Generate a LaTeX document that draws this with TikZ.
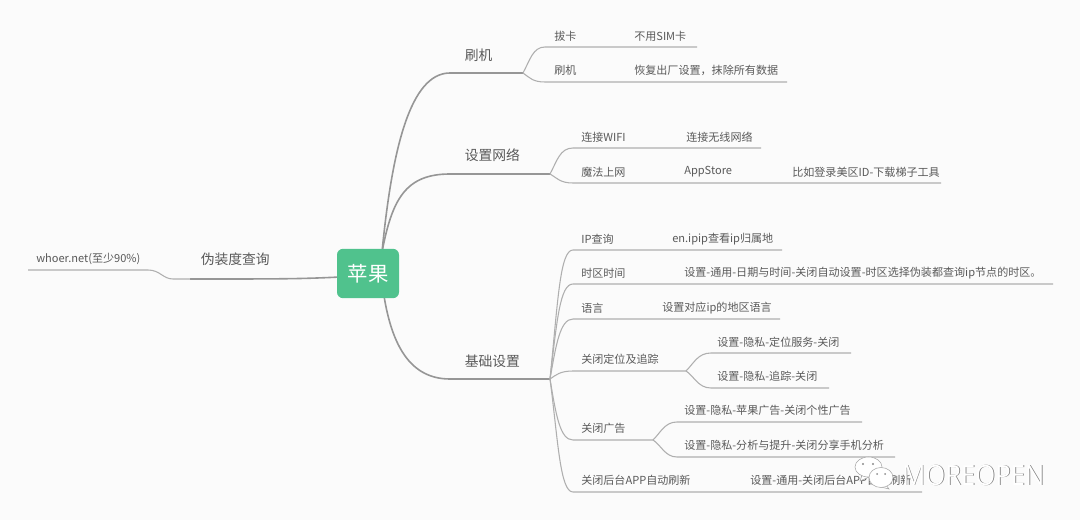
\documentclass[tikz,border=0pt]{standalone}
\usepackage{fontspec}
\setmainfont{Noto Sans CJK SC}
\newfontfamily\markfont{Open Sans}
\definecolor{paper}{HTML}{FBFBFB}
\definecolor{inkgray}{HTML}{5A5A5A}
\definecolor{rootgreen}{HTML}{50C28D}
\tikzset{
  rootbox/.style={fill=rootgreen,rounded corners=4.5pt,minimum width=46.5pt,minimum height=37pt,inner sep=0pt,text=white,font=\fontsize{15.3}{15.3}\selectfont},
  mainlabel/.style={anchor=west,inner sep=0pt,text=inkgray,font=\fontsize{10.35}{10.35}\selectfont},
  sublabel/.style={anchor=west,inner sep=0pt,text=inkgray,font=\fontsize{8.3}{8.3}\selectfont},
  mainline/.style={draw={rgb, 255:red, 150; green, 150; blue, 150},line width=1.2pt},
  subline/.style={draw={rgb, 255:red, 175; green, 175; blue, 175},line width=0.8pt},
}
\begin{document}
\begin{tikzpicture}[x=0.75pt,y=0.75pt,yscale=-1]
\useasboundingbox (0,0) rectangle (1080,520);
\fill [paper] (0,0) rectangle (1080,520);

% Junctions
\coordinate (hubup) at (382,252);
\coordinate (hubdown) at (384,296);
\coordinate (hubleft) at (340,277);
\coordinate (flashjoin) at (523,73);
\coordinate (netjoin) at (550,174);
\coordinate (basejoin) at (550,379);
\coordinate (locjoin) at (686,371);
\coordinate (adsjoin) at (653,440);
\coordinate (fakejoin) at (190,279);

%Main branches
\draw [mainline] (hubup) .. controls (392,150) and (410,73) .. (450,73) -- (flashjoin);
\draw [mainline] (hubup) .. controls (392,200) and (405,174) .. (450,174) -- (netjoin);
\draw [mainline] (hubdown) .. controls (392,345) and (410,379) .. (450,379) -- (basejoin);
\draw [mainline] (hubleft) .. controls (300,279) and (280,279) .. (fakejoin);

%Left twig
\coordinate (whoerend) at (28,270);
\draw [subline] (fakejoin) -- (173,279) .. controls (163,279) and (160,270) .. (148,270) -- (whoerend);

%Flash twigs
\coordinate (cardend) at (697,47);
\coordinate (resetend) at (787,82);
\draw [subline] (flashjoin) .. controls (530,60) and (533,47) .. (545,47) -- (cardend);
\draw [subline] (flashjoin) .. controls (530,78) and (533,82) .. (545,82) -- (resetend);

%Network twigs
\coordinate (wifiend) at (761,148);
\coordinate (magicend) at (941,183);
\draw [subline] (netjoin) .. controls (557,161) and (560,148) .. (573,148) -- (wifiend);
\draw [subline] (netjoin) .. controls (557,178) and (560,183) .. (573,183) -- (magicend);

%Base twigs
\coordinate (ipend) at (782,250);
\coordinate (zoneend) at (1053,284);
\coordinate (langend) at (780,319);
\coordinate (bgend) at (922,492);
\draw [subline] (basejoin) .. controls (558,300) and (560,250) .. (573,250) -- (ipend);
\draw [subline] (basejoin) .. controls (557,320) and (560,284) .. (573,284) -- (zoneend);
\draw [subline] (basejoin) .. controls (556,345) and (560,319) .. (573,319) -- (langend);
\draw [subline] (basejoin) .. controls (556,375) and (560,371) .. (573,371) -- (locjoin);
\draw [subline] (basejoin) .. controls (556,415) and (560,440) .. (573,440) -- (adsjoin);
\draw [subline] (basejoin) .. controls (558,440) and (560,492) .. (573,492) -- (bgend);

%Location and ads twigs
\coordinate (serviceend) at (851,353);
\coordinate (trackend) at (829,388);
\coordinate (appleadend) at (862,422);
\coordinate (shareend) at (895,457);
\draw [subline] (locjoin) .. controls (694,363) and (698,353) .. (711,353) -- (serviceend);
\draw [subline] (locjoin) .. controls (694,376) and (698,388) .. (711,388) -- (trackend);
\draw [subline] (adsjoin) .. controls (661,432) and (665,422) .. (677,422) -- (appleadend);
\draw [subline] (adsjoin) .. controls (661,445) and (665,457) .. (677,457) -- (shareend);

% Root Node
\node (apple) [rootbox] at (368,273.5) {苹果};

% Main Text Nodes
\node (fake) [mainlabel] at (200.5,259) {伪装度查询};
\node (flash) [mainlabel] at (464.5,55) {刷机};
\node (net) [mainlabel] at (464.5,155) {设置网络};
\node (base) [mainlabel] at (464.5,361) {基础设置};

% Text Nodes
\node (whoer) [sublabel] at (36,259) {whoer.net(至少90\%)};
\node (card) [sublabel] at (554,36) {拔卡};
\node (nosim) [sublabel] at (634,36) {不用SIM卡};
\node (reflash) [sublabel] at (554,70) {刷机};
\node (restore) [sublabel] at (634,70) {恢复出厂设置，抹除所有数据};
\node (wifi) [sublabel] at (581,137) {连接WIFI};
\node (wireless) [sublabel] at (686,137) {连接无线网络};
\node (magic) [sublabel] at (581,172) {魔法上网};
\node (store) [sublabel] at (684,172) {AppStore};
\node (usid) [sublabel] at (792,172) {比如登录美区ID-下载梯子工具};
\node (ip) [sublabel] at (581,239) {IP查询};
\node (ipip) [sublabel] at (672,239) {en.ipip查看ip归属地};
\node (zone) [sublabel] at (581,273) {时区时间};
\node (zoneset) [sublabel] at (684,273) {设置-通用-日期与时间-关闭自动设置-时区选择伪装都查询ip节点的时区。};
\node (lang) [sublabel] at (581,308) {语言};
\node (langset) [sublabel] at (662,308) {设置对应ip的地区语言};
\node (loc) [sublabel] at (581,359) {关闭定位及追踪};
\node (service) [sublabel] at (717,342) {设置-隐私-定位服务-关闭};
\node (track) [sublabel] at (717,376) {设置-隐私-追踪-关闭};
\node (ads) [sublabel] at (581,428) {关闭广告};
\node (applead) [sublabel] at (684,410) {设置-隐私-苹果广告-关闭个性广告};
\node (share) [sublabel] at (684,445) {设置-隐私-分析与提升-关闭分享手机分析};
\node (bg) [sublabel] at (581,480) {关闭后台APP自动刷新};
\node (bgset) [sublabel] at (750,480) {设置-通用-关闭后台APP自动刷新};

%Watermark bubbles
\draw [fill=white,draw=black!35,line width=0.4pt] (862,475) -- (860,481) -- (869,477) -- cycle;
\draw [fill=white,draw=black!35,line width=0.4pt] (868.5,467) ellipse [x radius=13.5,y radius=10];
\fill [black!45] (863,464) circle [radius=1.2] (873,464) circle [radius=1.2];
\draw [fill=white,draw=black!35,line width=0.4pt] (886,485) -- (889,489) -- (881,487) -- cycle;
\draw [fill=white,draw=black!35,line width=0.4pt] (881,477.5) ellipse [x radius=12,y radius=10];
\fill [black!45] (877,474) circle [radius=1] (885,474) circle [radius=1];

% Watermark Text
\node (markshade) [anchor=west,inner sep=0pt,xscale=0.915,text=black!55,font=\markfont\fontsize{21}{21}\selectfont] at (902.7,475.7) {MOREOPEN};
\node (mark) [anchor=west,inner sep=0pt,xscale=0.915,text=white,font=\markfont\fontsize{21}{21}\selectfont] at (902,475) {MOREOPEN};
\end{tikzpicture}
\end{document}
